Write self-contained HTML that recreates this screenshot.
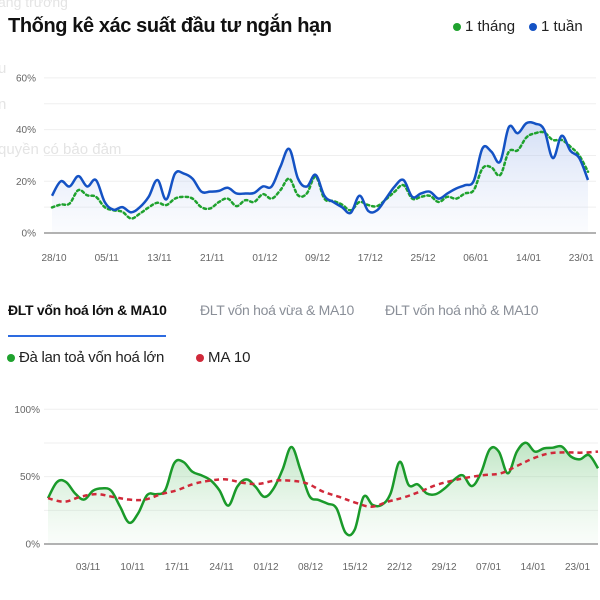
<!DOCTYPE html>
<html><head><meta charset="utf-8">
<style>
body{margin:0;width:600px;height:600px;background:#fff;overflow:hidden;font-family:"Liberation Sans","Noto Sans CJK SC",sans-serif;position:relative}
.abs{position:absolute;white-space:nowrap}
.ghost{color:#e4e4e4;font-size:15px}
.dot{display:inline-block;width:8px;height:8px;border-radius:50%;margin-right:4px;vertical-align:middle}
</style></head><body>
<div class="abs ghost" style="left:-2px;top:-6px;font-size:14px">ăng trưởng</div>
<div class="abs ghost" style="left:-2px;top:60px">u</div>
<div class="abs ghost" style="left:-2px;top:96px">n</div>
<div class="abs ghost" style="left:-2px;top:141px">quyền có bảo đảm</div>
<div class="abs" style="left:8px;top:15px;font-size:20px;font-weight:bold;color:#111;letter-spacing:-0.4px">Thống kê xác suất đầu tư ngắn hạn</div>
<div class="abs" style="left:453px;top:18px;font-size:15px;color:#222"><span class="dot" style="background:#1fa22e"></span>1 tháng</div>
<div class="abs" style="left:529px;top:18px;font-size:15px;color:#222"><span class="dot" style="background:#1452c4"></span>1 tuần</div>

<div class="abs" style="left:8px;top:302px;font-size:14px;font-weight:bold;color:#111;letter-spacing:-0.3px">ĐLT vốn hoá lớn &amp; MA10</div>
<div class="abs" style="left:8px;top:335px;width:158px;height:2px;background:#2d6be0"></div>
<div class="abs" style="left:200px;top:302px;font-size:14px;color:#8a8f98;letter-spacing:-0.3px">ĐLT vốn hoá vừa &amp; MA10</div>
<div class="abs" style="left:385px;top:302px;font-size:14px;color:#8a8f98;letter-spacing:-0.3px">ĐLT vốn hoá nhỏ &amp; MA10</div>
<div class="abs" style="left:7px;top:349px;font-size:15px;color:#222;letter-spacing:-0.3px"><span class="dot" style="background:#1fa22e"></span>Đà lan toả vốn hoá lớn</div>
<div class="abs" style="left:196px;top:349px;font-size:15px;color:#222"><span class="dot" style="background:#d0293a"></span>MA 10</div>

<svg id="top" class="abs" style="left:0;top:0" width="600" height="290"></svg>
<svg id="bot" class="abs" style="left:0;top:380" width="600" height="220"></svg>

<script>
const topWeek=[14.4,20,18,22,18,20.5,12,9,10,8,10,14,20.5,13,23,23,21,16,16,16.3,17.5,15.3,15.3,15.5,18,18,25.7,32.5,21,18,22.5,14.4,12,10,7.8,14.4,8.5,8.8,13.3,18,20.5,14,15.3,16,13.3,15.3,17.2,18.5,20.2,32.8,31.5,27.6,41,38.6,42.5,42.3,40,29,37.6,31.8,29,20.5];
const topMonth=[9.9,11,11.4,16.6,14.6,14,10,8.8,8.2,5.6,7.5,9.9,11.7,10.8,13.3,14,13.3,10,9.5,12,13.3,10.4,12.7,12,15,13.3,16.6,21,14.6,15.3,21.8,13.3,12.4,11,8.8,12,10.8,10.4,13,16,18.5,13.3,14,14.4,12,14,13.3,15.3,16.6,25,25.4,22.4,31.5,32,37,38.6,38.9,36,36,33.4,30,23.7];
const topXLabels=["28/10","05/11","13/11","21/11","01/12","09/12","17/12","25/12","06/01","14/01","23/01"];
const topYTicks=[0,20,40,60];
const botSpread=[34,46,46,37.6,33,39.6,41.3,39.6,27.7,15.8,22.8,36.4,37,40,60,61,53.7,51,47.5,40,28.5,42.6,48,42.6,35,41,55,72,55,35.6,32.7,30,26.5,8.4,10.4,35,29,29,37.6,61,43.8,44.3,37.6,37,41.3,47.5,51,43,52.5,70.3,68.6,52.5,68.6,75.2,68.6,71,71.5,72.3,64.9,62.9,66,56.2];
const botMA=[34,31.4,35,37,35,33,33,37,40,44.6,47,48,45.5,44.6,47,47,45,38.9,35,30.7,27.7,31.4,34.6,38.9,43.8,47,49.5,51.2,52.5,58,63.6,67.3,68,67.8,68.6];
const botXLabels=["03/11","10/11","17/11","24/11","01/12","08/12","15/12","22/12","29/12","07/01","14/01","23/01"];
const botYTicks=[0,50,100];

const NS="http://www.w3.org/2000/svg";
function mk(svg,tag,attrs){const e=document.createElementNS(NS,tag);for(const k in attrs)e.setAttribute(k,attrs[k]);svg.appendChild(e);return e;}
function smooth(pts){let d="M"+pts[0][0]+","+pts[0][1];for(let i=0;i<pts.length-1;i++){const p0=pts[i-1]||pts[i],p1=pts[i],p2=pts[i+1],p3=pts[i+2]||p2;const t=0.18;d+=" C"+(p1[0]+(p2[0]-p0[0])*t)+","+(p1[1]+(p2[1]-p0[1])*t)+" "+(p2[0]-(p3[0]-p1[0])*t)+","+(p2[1]-(p3[1]-p1[1])*t)+" "+p2[0]+","+p2[1];}return d;}
function text(svg,x,y,s,anchor){const t=mk(svg,"text",{x:x,y:y,"font-size":"10","fill":"#666","text-anchor":anchor,"font-family":"Liberation Sans, sans-serif"});t.textContent=s;return t;}

(function(){
const svg=document.getElementById("top");
const X0=52,X1=588,Y0=233,PY=2.585;
const x=i=>X0+i*(X1-X0)/(topWeek.length-1);
const y=v=>Y0-v*PY;
mk(svg,"defs",{}).innerHTML='<linearGradient id="gb" x1="0" y1="0" x2="0" y2="1"><stop offset="0" stop-color="#9db6ea" stop-opacity="0.45"/><stop offset="1" stop-color="#c9d6f3" stop-opacity="0.08"/></linearGradient>';
for(let v=10;v<=60;v+=10){const g=mk(svg,"line",{x1:44,x2:596,y1:y(v),y2:y(v),stroke:"#efefef","stroke-width":1});}
topYTicks.forEach(v=>{const t=text(svg,36,y(v)+3.5,v+"%","end");});
const wp=topWeek.map((v,i)=>[x(i),y(v)]);
const mp=topMonth.map((v,i)=>[x(i),y(v)]);
const area=mk(svg,"path",{d:smooth(wp)+" L"+x(topWeek.length-1)+","+Y0+" L"+X0+","+Y0+" Z",fill:"url(#gb)"});

const base=mk(svg,"line",{x1:44,x2:596,y1:Y0,y2:Y0,stroke:"#999","stroke-width":1.5});

const ml=mk(svg,"path",{d:smooth(mp),fill:"none",stroke:"#1fa22e","stroke-width":2.5,"stroke-dasharray":"2.5 3","stroke-linecap":"round"});

const wl=mk(svg,"path",{d:smooth(wp),fill:"none",stroke:"#1452c4","stroke-width":2.5});

topXLabels.forEach((s,k)=>{const t=text(svg,x(k*6)+2,261,s,"middle");});
})();

(function(){
const svg=document.getElementById("bot");
const X0=48,X1=598,Y0=164,PY=1.347;
const x=i=>X0+i*(X1-X0)/(botSpread.length-1);
const xm=i=>X0+i*(X1-X0)/(botMA.length-1);
const y=v=>Y0-v*PY;
mk(svg,"defs",{}).innerHTML='<linearGradient id="gg" x1="0" y1="0" x2="0" y2="1"><stop offset="0" stop-color="#6fc57a" stop-opacity="0.45"/><stop offset="1" stop-color="#bfe6c4" stop-opacity="0.08"/></linearGradient>';
for(let v=25;v<=100;v+=25){const g=mk(svg,"line",{x1:44,x2:598,y1:y(v),y2:y(v),stroke:"#efefef","stroke-width":1});}
botYTicks.forEach(v=>{const t=text(svg,40,y(v)+3.5,v+"%","end");});
const sp=botSpread.map((v,i)=>[x(i),y(v)]);
const mp=botMA.map((v,i)=>[xm(i),y(v)]);
const area=mk(svg,"path",{d:smooth(sp)+" L"+x(botSpread.length-1)+","+Y0+" L"+X0+","+Y0+" Z",fill:"url(#gg)"});

const base=mk(svg,"line",{x1:44,x2:598,y1:Y0,y2:Y0,stroke:"#999","stroke-width":1.5});

const sl=mk(svg,"path",{d:smooth(sp),fill:"none",stroke:"#1a9a2a","stroke-width":2.5});

const ml=mk(svg,"path",{d:smooth(mp),fill:"none",stroke:"#d0293a","stroke-width":2.5,"stroke-dasharray":"5 4"});

botXLabels.forEach((s,k)=>{const t=text(svg,88+k*44.5,190,s,"middle");});
})();
</script>
</body></html>
